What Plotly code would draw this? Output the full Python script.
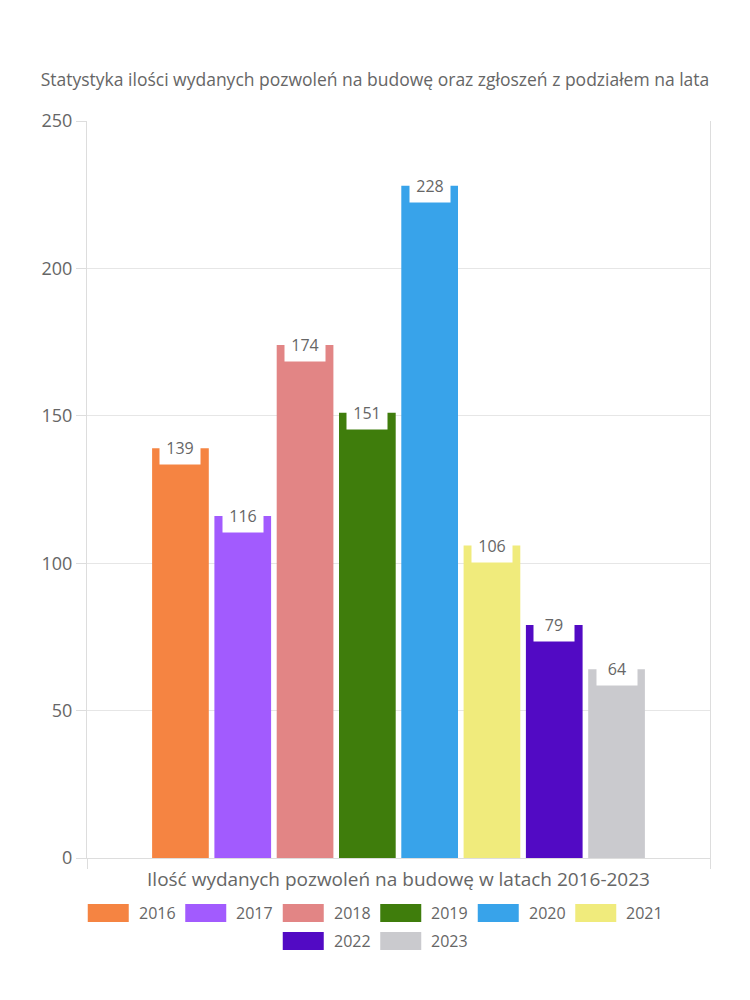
import plotly.graph_objects as go

category = ["Ilość wydanych pozwoleń na budowę w latach 2016-2023"]
years = ["2016", "2017", "2018", "2019", "2020", "2021", "2022", "2023"]
values = [139, 116, 174, 151, 228, 106, 79, 64]
colors = ["#F58442", "#A25BFE", "#E28585", "#3F7D0C", "#38A3EA",
          "#F0EB7C", "#520AC4", "#CACACE"]
title_text = "Statystyka ilości wydanych pozwoleń na budowę oraz zgłoszeń z podziałem na lata"

OFF = 8  # page body margin
W, H = 750 - OFF, 1000 - OFF
ML, MT = 87 - OFF, 121 - OFF
PW = 623
PH = 737
MR = W - ML - PW
MB = H - MT - PH
BARGAP = 0.2
GROUPGAP = 0.09
FONT = "Open Sans"
GRAY = "#666666"

fig = go.Figure()
for yr, v, c in zip(years, values, colors):
    fig.add_trace(go.Bar(x=category, y=[v], name=yr, marker_color=c,
                         marker_line_width=0, showlegend=False,
                         hoverinfo="y+name"))

# data labels (white boxes at top of bars)
n = len(years)
slot = PW * (1 - BARGAP) / n
annotations = []
for i, v in enumerate(values):
    annotations.append(dict(
        x=category[0], y=v, xref="x", yref="y",
        xshift=(i - (n - 1) / 2) * slot, yshift=0,
        text=str(v), showarrow=False, yanchor="middle",
        bgcolor="white", width=36, height=28, borderpad=2,
        font=dict(family=FONT, size=16, color=GRAY),
    ))

# custom legend
pitch = 97.5
sw_w, sw_h = 41, 18
rows = [list(range(0, 6)), list(range(6, 8))]
row_y = [913 - OFF, 941 - OFF]
shapes = []
entry_w = 87
for r, idxs in enumerate(rows):
    total = (len(idxs) - 1) * pitch + entry_w
    start = 375 - OFF - total / 2
    for k, i in enumerate(idxs):
        x0 = start + k * pitch
        yc = row_y[r]
        shapes.append(dict(
            type="rect", xref="paper", yref="paper",
            x0=(x0 - ML) / PW, x1=(x0 + sw_w - ML) / PW,
            y0=(H - MB - (yc + sw_h / 2)) / PH, y1=(H - MB - (yc - sw_h / 2)) / PH,
            fillcolor=colors[i], line_width=0,
        ))
        annotations.append(dict(
            x=(x0 + sw_w + 8 - ML) / PW, y=(H - MB - yc) / PH,
            xref="paper", yref="paper", xanchor="left", yanchor="middle",
            text=years[i], showarrow=False,
            font=dict(family=FONT, size=16, color=GRAY),
        ))

fig.update_layout(
    width=W, height=H,
    margin=dict(l=ML, r=MR, t=MT, b=MB),
    paper_bgcolor="white", plot_bgcolor="white",
    barmode="group", bargap=BARGAP, bargroupgap=GROUPGAP,
    title=dict(text=title_text, x=(375 - OFF) / W, xanchor="center",
               y=1 - (80 - OFF) / H,
               yanchor="middle", font=dict(family=FONT, size=17.5, color=GRAY)),
    font=dict(family=FONT, color=GRAY),
    annotations=annotations, shapes=shapes,
)
fig.update_yaxes(range=[0, 250], dtick=50, showgrid=True, gridcolor="#E6E6E6",
                 showline=True, linecolor="#DDDDDD", mirror=True,
                 ticks="outside", ticklen=10, tickcolor="#DDDDDD",
                 tickfont=dict(family=FONT, size=18, color=GRAY), zeroline=False)
fig.update_xaxes(showline=True, linecolor="#DDDDDD", ticks="outside",
                 tickson="boundaries", ticklen=10, tickcolor="#DDDDDD",
                 ticklabelstandoff=4,
                 tickfont=dict(family=FONT, size=19, color=GRAY))

fig.write_html("out.html")
